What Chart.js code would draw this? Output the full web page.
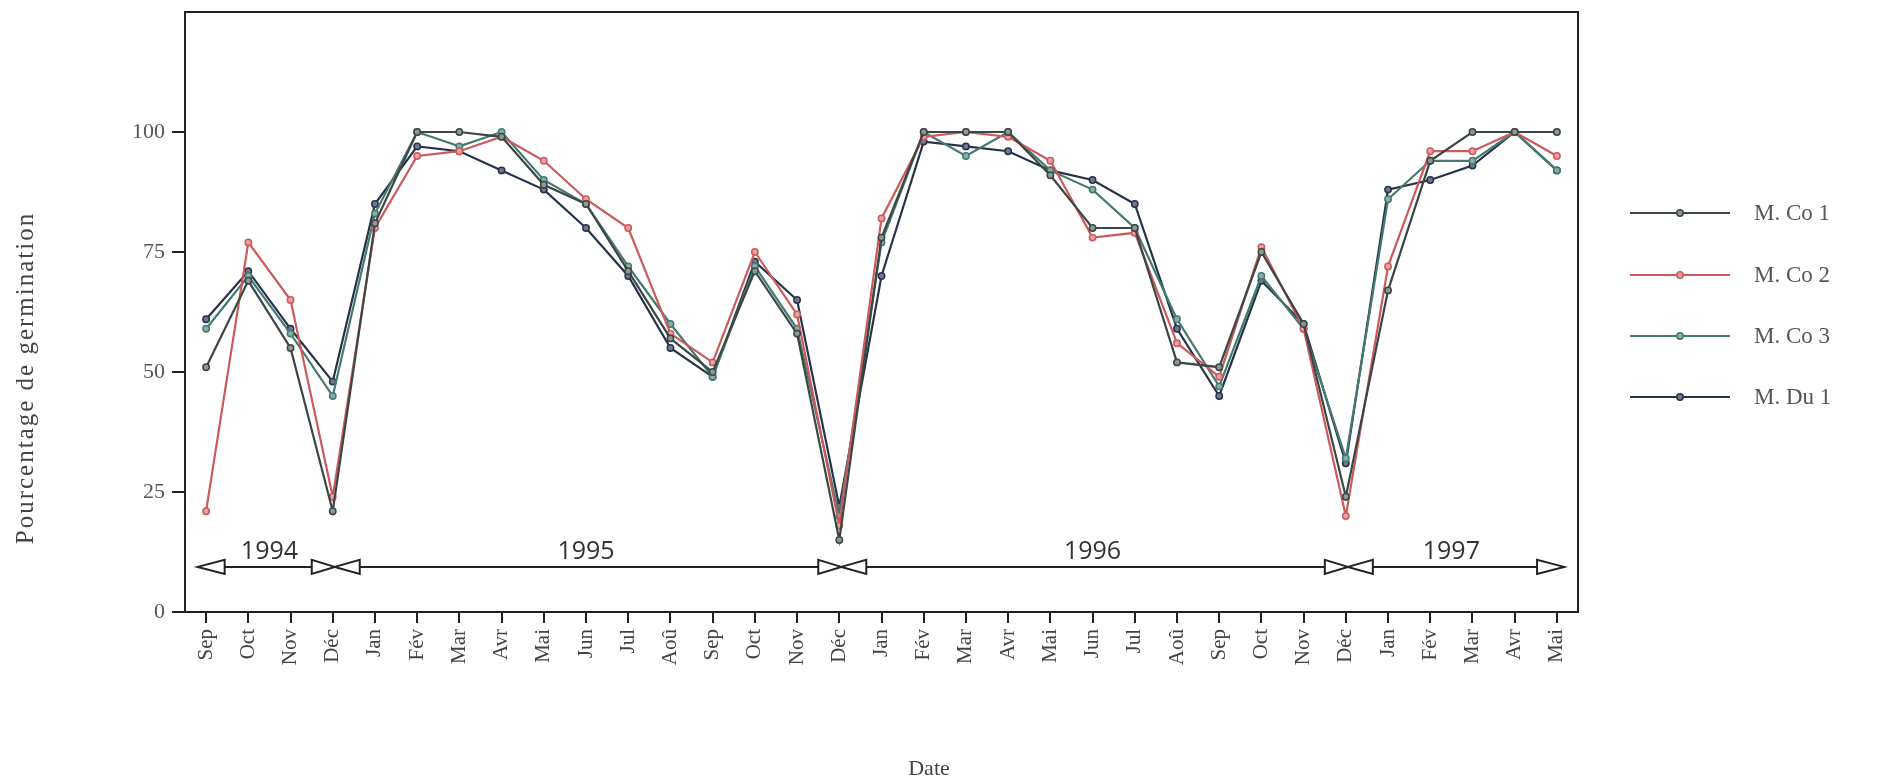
<!DOCTYPE html>
<html>
<head>
<meta charset="utf-8">
<script src="https://cdn.jsdelivr.net/npm/chart.js@4.4.1/dist/chart.umd.min.js"></script>
<style>
  html, body { margin: 0; padding: 0; background: #fff; }
  #wrap { width: 1884px; height: 781px; position: relative; }
</style>
</head>
<body>
<div id="wrap"><canvas id="germChart"></canvas></div>
<script>
// --- DATA ---
const months = ["Sep", "Oct", "Nov", "Déc",
  "Jan", "Fév", "Mar", "Avr", "Mai", "Jun", "Jul", "Aoû", "Sep", "Oct", "Nov", "Déc",
  "Jan", "Fév", "Mar", "Avr", "Mai", "Jun", "Jul", "Aoû", "Sep", "Oct", "Nov", "Déc",
  "Jan", "Fév", "Mar", "Avr", "Mai"];

const seriesNames = ["M. Co 1", "M. Co 2", "M. Co 3", "M. Du 1"];

const co1 = [51, 69, 55, 21, 81, 100, 100, 99, 89, 85, 71, 57, 50, 71, 58, 15,
             78, 100, 100, 100, 91, 80, 80, 52, 51, 75, 60, 24, 67, 94, 100, 100, 100];
const co2 = [21, 77, 65, 24, 80, 95, 96, 99, 94, 86, 80, 58, 52, 75, 62, 18,
             82, 99, 100, 99, 94, 78, 79, 56, 49, 76, 59, 20, 72, 96, 96, 100, 95];
const co3 = [59, 70, 58, 45, 83, 100, 97, 100, 90, 85, 72, 60, 49, 72, 59, 20,
             77, 100, 95, 100, 92, 88, 80, 61, 47, 70, 59, 32, 86, 94, 94, 100, 92];
const du1 = [61, 71, 59, 48, 85, 97, 96, 92, 88, 80, 70, 55, 49, 73, 65, 22,
             70, 98, 97, 96, 92, 90, 85, 59, 45, 69, 60, 31, 88, 90, 93, 100, 92];

const yTicks = [0, 25, 50, 75, 100];

// year bands along the bottom: label, first index, last index
const yearLabels = ["1994", "1995", "1996", "1997"];
const yearStart = [0, 3, 15, 27];
const yearEnd = [3, 15, 27, 32];

const xTitle = "Date";
const yTitle = "Pourcentage de germination";

// --- STYLES ---
const lineColors = ["#3b4744", "#cc5a5a", "#457a70", "#27324a"];
const pointFills = ["#8e9895", "#e3a3a3", "#86b0a6", "#6f7890"];
const seriesData = [co1, co2, co3, du1];

const serif = "'Liberation Serif', 'Times New Roman', serif";

// --- PLUGINS ---
const frameBox = {
    id: "frameBox",
    beforeDatasetsDraw(chart) {
        const { ctx, chartArea: a } = chart;
        ctx.save();
        ctx.strokeStyle = "#222";
        ctx.lineWidth = 2;
        ctx.strokeRect(a.left, a.top, a.right - a.left, a.bottom - a.top);
        ctx.restore();
    }
};

// axis titles sit off-centre in the original, so draw them by hand
const axisTitles = {
    id: "axisTitles",
    afterDraw(chart) {
        const { ctx } = chart;
        ctx.save();
        ctx.fillStyle = "#444";
        ctx.textAlign = "center";
        ctx.textBaseline = "middle";
        ctx.font = "22px " + serif;
        ctx.fillText(xTitle, 929, 769);
        ctx.translate(26, 378);
        ctx.rotate(-Math.PI / 2);
        ctx.font = "25px " + serif;
        ctx.letterSpacing = "2px";
        ctx.fillText(yTitle, 0, 0);
        ctx.restore();
    }
};

function triangle(ctx, tipX, baseX, y, h) {
    ctx.beginPath();
    ctx.moveTo(tipX, y);
    ctx.lineTo(baseX, y - h / 2);
    ctx.lineTo(baseX, y + h / 2);
    ctx.closePath();
    ctx.fillStyle = "#fff";
    ctx.fill();
    ctx.stroke();
}

const yearBands = {
    id: "yearBands",
    afterDraw(chart, args, opts) {
        const { ctx } = chart;
        const xs = chart.scales.x, ys = chart.scales.y;
        const y = ys.getPixelForValue(opts.level);
        const step = xs.getPixelForValue(1) - xs.getPixelForValue(0);
        const tw = 27, th = 14;
        ctx.save();
        ctx.strokeStyle = "#222";
        ctx.lineWidth = 2;
        const first = xs.getPixelForValue(yearStart[0]) - step * 0.2;
        const last = xs.getPixelForValue(yearEnd[yearEnd.length - 1]) + step * 0.17;
        ctx.beginPath();
        ctx.moveTo(first, y);
        ctx.lineTo(last, y);
        ctx.stroke();
        triangle(ctx, first, first + tw, y, th);
        triangle(ctx, last, last - tw, y, th);
        for (let i = 1; i < yearStart.length; i++) {
            const bx = xs.getPixelForValue(yearStart[i]) + 2;
            triangle(ctx, bx, bx - tw + 4, y, th);
            triangle(ctx, bx, bx + tw - 2, y, th);
        }
        ctx.fillStyle = "#333";
        ctx.font = "25px 'Open Sans', 'DejaVu Sans', sans-serif";
        ctx.textAlign = "center";
        ctx.textBaseline = "alphabetic";
        yearLabels.forEach((lab, i) => {
            const mid = (yearStart[i] + yearEnd[i]) / 2;
            ctx.fillText(lab, xs.getPixelForValue(mid), y - 8);
        });
        ctx.restore();
    }
};

const sideLegend = {
    id: "sideLegend",
    afterDraw(chart) {
        const { ctx } = chart;
        const x0 = 1630, x1 = 1730, tx = 1754;
        const rows = [213, 275, 336, 397];
        ctx.save();
        chart.data.datasets.forEach((ds, i) => {
            const y = rows[i];
            ctx.strokeStyle = ds.borderColor;
            ctx.lineWidth = 2.2;
            ctx.beginPath();
            ctx.moveTo(x0, y);
            ctx.lineTo(x1, y);
            ctx.stroke();
            ctx.beginPath();
            ctx.arc((x0 + x1) / 2, y, 3.2, 0, Math.PI * 2);
            ctx.fillStyle = ds.pointBackgroundColor;
            ctx.fill();
            ctx.lineWidth = 1.5;
            ctx.strokeStyle = ds.pointBorderColor;
            ctx.stroke();
            ctx.fillStyle = "#555";
            ctx.font = "23px " + serif;
            ctx.textAlign = "left";
            ctx.textBaseline = "middle";
            ctx.fillText(ds.label, tx, y + 1);
        });
        ctx.restore();
    }
};

// --- CHART ---
const datasets = seriesNames.map((name, i) => ({
    label: name,
    data: seriesData[i],
    borderColor: lineColors[i],
    borderWidth: 2.2,
    pointRadius: 3.2,
    pointBorderWidth: 1.5,
    pointBorderColor: lineColors[i],
    pointBackgroundColor: pointFills[i],
    tension: 0,
    fill: false
}));

const ctx = document.getElementById("germChart").getContext("2d");
const chart = new Chart(ctx, {
    type: "line",
    data: { labels: months, datasets: datasets },
    options: {
        responsive: true,
        maintainAspectRatio: false,
        animation: false,
        layout: { padding: { top: 12, right: 306, bottom: 0, left: 0 } },
        plugins: {
            legend: { display: false },
            tooltip: { enabled: false },
            yearBands: { level: 9.4 }
        },
        scales: {
            x: {
                type: "category",
                offset: true,
                grid: {
                    offset: false,
                    drawOnChartArea: false,
                    drawTicks: true,
                    tickLength: 11,
                    color: "#222",
                    lineWidth: 2
                },
                border: { display: true, color: "#222", width: 2 },
                ticks: {
                    autoSkip: false,
                    maxRotation: 90,
                    minRotation: 90,
                    padding: 6,
                    color: "#444",
                    font: { family: serif, size: 21 }
                },
                afterFit(scale) { scale.height = 169; }
            },
            y: {
                min: 0,
                max: 125,
                afterBuildTicks(scale) { scale.ticks = yTicks.map(v => ({ value: v })); },
                grid: {
                    drawOnChartArea: false,
                    drawTicks: true,
                    tickLength: 13,
                    color: "#222",
                    lineWidth: 2
                },
                border: { display: true, color: "#222", width: 2 },
                ticks: {
                    padding: 7,
                    color: "#555",
                    font: { family: serif, size: 22 }
                },
                afterFit(scale) {
                    scale.width = 185;
                    scale.paddingTop = 0;
                    scale.paddingBottom = 0;
                }
            }
        }
    },
    plugins: [frameBox, yearBands, sideLegend, axisTitles]
});
</script>
</body>
</html>
